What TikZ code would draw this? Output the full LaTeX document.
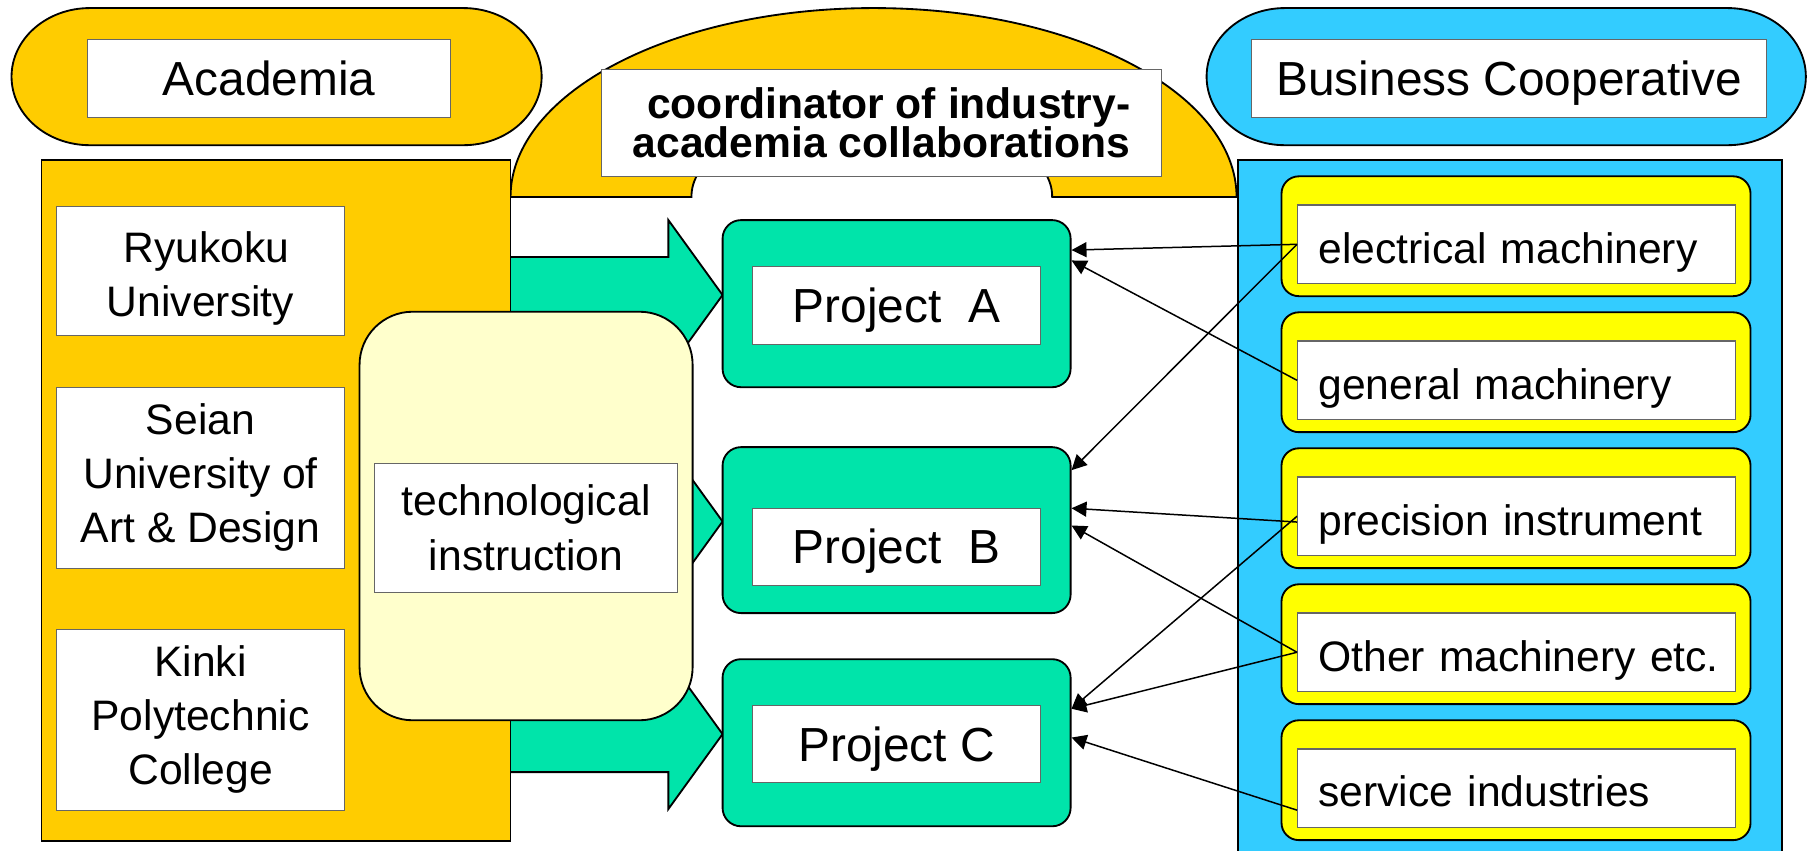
\documentclass[tikz,border=0pt]{standalone}
\usepackage{fontspec}
\setmainfont{Liberation Sans}
\usetikzlibrary{arrows.meta,calc}
\definecolor{gold}{RGB}{255,204,0}
\definecolor{sky}{RGB}{51,204,255}
\definecolor{mint}{RGB}{0,228,170}
\definecolor{cream}{RGB}{255,255,204}
\definecolor{lemon}{RGB}{255,255,0}
\begin{document}
\begin{tikzpicture}[x=1pt,y=-1pt,
  outl/.style={draw=black,line width=1.6pt},
  wbox/.style={draw=black!60,line width=1.1pt,fill=white,inner sep=0pt},
  bigtxt/.style={font=\fontsize{41.5}{50}\selectfont,text height=37.7pt,text depth=8pt},
  midtxt/.style={font=\fontsize{37}{47}\selectfont},
  unibox/.style={wbox,midtxt,align=center,minimum width=250pt},
  projbox/.style={outl,fill=mint,rounded corners=16pt,minimum width=302pt,minimum height=145pt,inner sep=0pt},
  projlabel/.style={wbox,bigtxt,minimum width=250pt,minimum height=68pt},
  indbox/.style={outl,fill=lemon,rounded corners=15pt,minimum width=407pt,minimum height=104pt,inner sep=0pt},
  indlabel/.style={wbox,font=\fontsize{37}{47}\selectfont,text height=39.5pt,text depth=7pt,text width=344pt,align=left,inner xsep=18pt,minimum width=380pt,minimum height=68pt},
  link/.style={line width=1.3pt,-{Triangle[length=13pt,width=13pt]}},
  garrow/.style={outl,fill=mint,line join=miter},
]
\useasboundingbox (0,0) rectangle (1568,738);

% header pills
\draw[outl,fill=gold] (78,7) -- (402,7) arc[start angle=-90,end angle=90,x radius=68,y radius=59.5] -- (78,126) arc[start angle=90,end angle=270,x radius=68,y radius=59.5] -- cycle;
\draw[outl,fill=sky] (1115,7) -- (1499,7) arc[start angle=-90,end angle=90,x radius=68,y radius=59.5] -- (1115,126) arc[start angle=90,end angle=270,x radius=68,y radius=59.5] -- cycle;

% dome
\draw[outl,fill=gold] (600,171) -- (443,171) arc[start angle=180,end angle=360,x radius=315,y radius=164] -- (913,171) .. controls (913,163) and (911,157) .. (907,150) -- (606,150) .. controls (602,157) and (600,163) .. (600,171) -- cycle;

% business panel
\draw[outl,fill=sky] (1074,139) rectangle (1546,760);

% block arrows
\coordinate (tipA) at (627,256);
\coordinate (tipB) at (627,452.5);
\coordinate (tipC) at (627,637);
\foreach \t in {tipA,tipB,tipC}{
  \draw[garrow] (\t) -- ++(-47,-65) -- ++(0,32) -- ++(-150,0) -- ++(0,66) -- ++(150,0) -- ++(0,32) -- cycle;
}

% academia panel
\node[outl,fill=gold,minimum width=407pt,minimum height=591pt,inner sep=0pt] (acad) at (239.5,434.5) {};
\node[unibox,minimum height=112pt] (ryu) at (174,235) {\rule{0pt}{40.5pt}\hspace*{10pt}Ryukoku\\University};
\node[unibox,minimum height=157pt] (seian) at (174,414.5) {Seian\\University of\\Art \& Design};
\node[unibox,minimum height=157pt] (kinki) at (174,624.5) {Kinki\\Polytechnic\\College};

% technological instruction
\node[outl,fill=cream,rounded corners=46pt,minimum width=289pt,minimum height=354.5pt,inner sep=0pt] (tech) at (456.5,447.75) {};
\node[wbox,midtxt,align=center,minimum width=263pt,minimum height=112pt] (techl) at (456.5,458) {technological\\instruction};

% projects
\node[projbox] (pA) at (778,263.5) {};
\node[projlabel] (lA) at (778,265) {Project~~A};
\node[projbox,minimum height=144pt] (pB) at (778,460) {};
\node[projlabel,minimum height=67pt] (lB) at (778,474.5) {Project~~B};
\node[projbox] (pC) at (778,644.5) {};
\node[projlabel,minimum height=67pt] (lC) at (778,645.5) {Project C};

% industries
\node[indbox] (y1) at (1315.5,205) {};
\node[indbox] (y2) at (1315.5,323) {};
\node[indbox] (y3) at (1315.5,441) {};
\node[indbox] (y4) at (1315.5,559) {};
\node[indbox] (y5) at (1315.5,677) {};
\node[indlabel] (e1) at (1316,212) {\mbox{electrical machinery}};
\node[indlabel] (e2) at (1316,330) {\mbox{general machinery}};
\node[indlabel] (e3) at (1316,448) {\mbox{precision instrument}};
\node[indlabel] (e4) at (1316,566) {\mbox{Other machinery etc.}};
\node[indlabel] (e5) at (1316,684) {\mbox{service industries}};

% header labels
\node[wbox,bigtxt,minimum width=315pt,minimum height=68pt] (acadl) at (233.5,68) {Academia};
\node[wbox,bigtxt,minimum width=447pt,minimum height=68pt] (busl) at (1309.5,68) {Business Cooperative};
\node[wbox,font={\bfseries\fontsize{37}{34.5}\selectfont\lineskiplimit=-50pt},align=right,minimum width=486pt,minimum height=93pt] (coord) at (765,106.5) {coordinator of industry-\\academia collaborations};

% links
\draw[link] (e1.west) -- ([yshift=46.5pt]pA.east);
\draw[link] (e2.west) -- ([yshift=37.5pt]pA.east);
\draw[link] (e1.west) -- ([yshift=52pt]pB.east);
\draw[link] ([yshift=-5pt]e3.west) -- ([yshift=19pt]pB.east);
\draw[link] (e4.west) -- ([yshift=4pt]pB.east);
\draw[link] (e3.west) -- ([yshift=29.5pt]pC.east);
\draw[link] (e4.west) -- ([yshift=29.5pt]pC.east);
\draw[link] ([yshift=-19pt]e5.west) -- ([yshift=4.5pt]pC.east);
\end{tikzpicture}
\end{document}
